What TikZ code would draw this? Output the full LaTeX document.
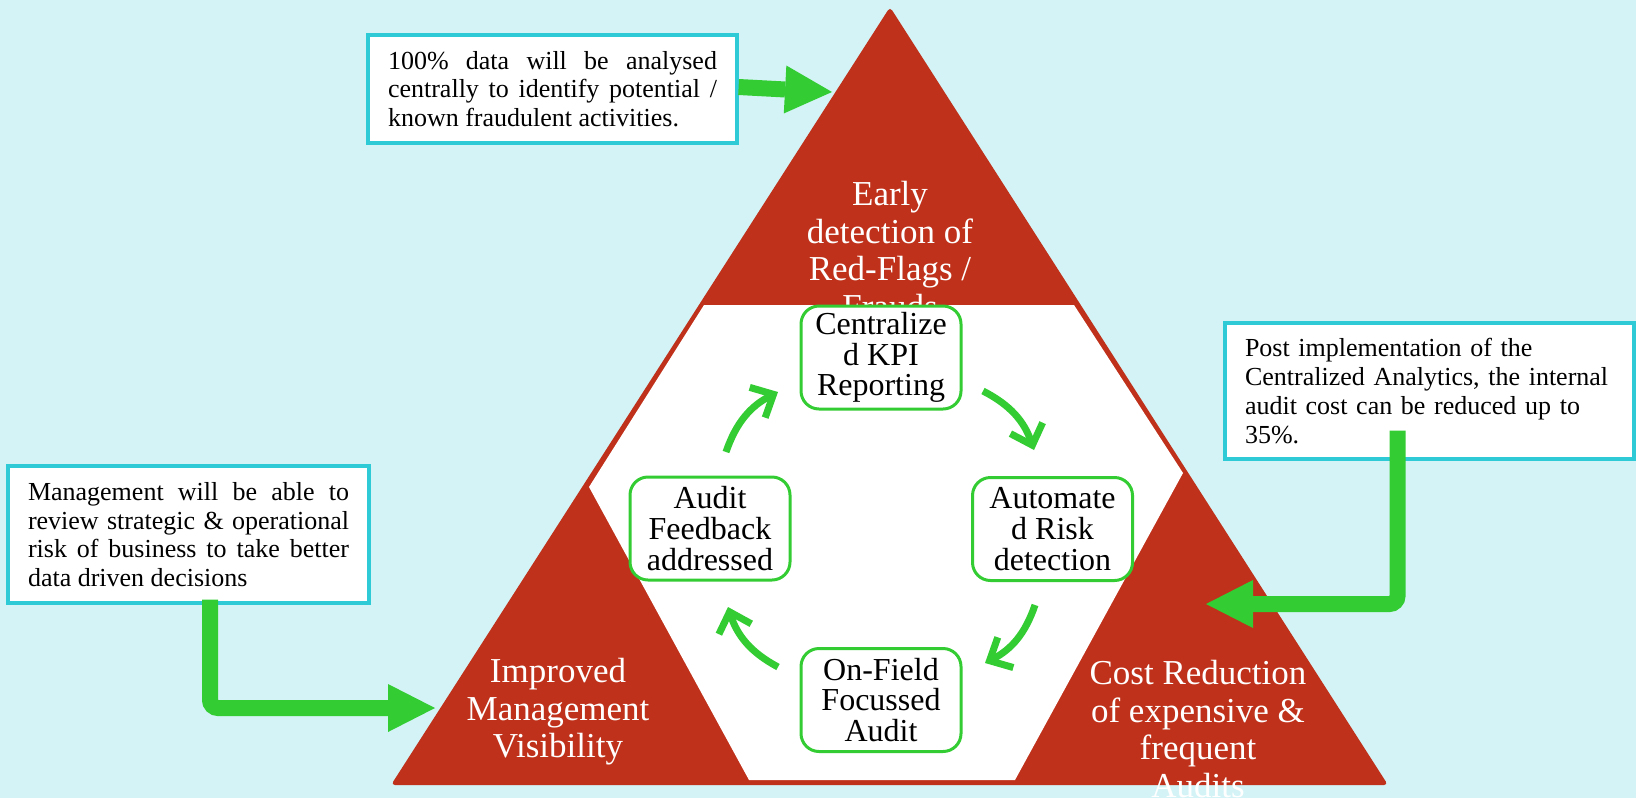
\documentclass[tikz,border=0pt]{standalone}
\usepackage{fontspec}
\setmainfont{Liberation Serif}
\usepackage{tikz}
\usetikzlibrary{arrows.meta}

\definecolor{bgcyan}{RGB}{212,243,246}
\definecolor{flagred}{RGB}{191,49,26}
\definecolor{leafgreen}{RGB}{51,204,51}
\definecolor{notecyan}{RGB}{46,203,214}

\begin{document}
\begin{tikzpicture}[x=0.5pt,y=-0.5pt,
  note box/.style={draw=notecyan,line width=1.6pt,fill=white,inner xsep=10pt,inner ysep=0pt,align=justify,font=\fontsize{13}{14.4}\selectfont,execute at begin node={\hyphenpenalty=10000 \tolerance=10000 }},
  cycle node/.style={draw=leafgreen,line width=1.5pt,fill=white,rounded corners=9pt,minimum width=80pt,minimum height=51.5pt,inner sep=1pt,align=center,font=\fontsize{16}{15.4}\selectfont},
  corner text/.style={text=white,align=center,font=\fontsize{17.5}{18.8}\selectfont},
  big arrow/.style={draw=leafgreen,line width=8pt,rounded corners=4pt,-{Triangle[length=23.5pt,width=24pt,line width=0pt]}},
  cycle arrow/.style={draw=leafgreen,line width=3.5pt,-{Straight Barb[length=9pt,width=17pt]}}]
  \fill[bgcyan] (0,0) rectangle (1636,798);
  \useasboundingbox (0,0) rectangle (1636,798);

  \fill[flagred,rounded corners=2pt] (890,7) -- (1388,785) -- (391,785) -- cycle;
  \fill[white] (704,305) -- (1074,305) -- (1183,473) -- (1015,780) -- (749,780) -- (589,487) -- cycle;

  \node[corner text] (early) at (890,250) {Early\\detection of\\Red-Flags /\\Frauds};
  \node[corner text] (visibility) at (558,712) {Improved\\Management\\Visibility};
  \node[corner text] (saving) at (1198,729) {Cost Reduction\\of expensive \&\\frequent\\Audits};

  \node[note box,text width=164.5pt,minimum height=54pt] (fraudnote) at (552.5,89) {100\% data will be analysed centrally to identify potential / known fraudulent activities.};
  \node[note box,text width=184.5pt,minimum height=68pt,align=left] (costnote) at (1429.5,391) {Post implementation of the\\Centralized Analytics, the internal\\audit cost can be reduced up to\\35\%.};
  \node[note box,text width=160.5pt,minimum height=68.5pt] (mgmtnote) at (188.5,534.5) {Management will be able to review strategic \& operational risk of business to take better data driven decisions};

  \node[cycle node] (kpi) at (881,357.5) {Centralize\\d KPI\\Reporting};
  \node[cycle node] (risk) at (1052.5,529) {Automate\\d Risk\\detection};
  \node[cycle node] (onfield) at (881,700) {On-Field\\Focussed\\Audit};
  \node[cycle node] (feedback) at (710,528.5) {Audit\\Feedback\\addressed};

  \coordinate (kpi exit) at (983,391);
  \coordinate (risk entry) at (1034,450);
  \coordinate (risk exit) at (1035,605);
  \coordinate (onfield entry) at (985,663);
  \coordinate (onfield exit) at (778,667);
  \coordinate (feedback entry) at (728,607);
  \coordinate (feedback exit) at (726,452);
  \coordinate (kpi entry) at (778,392);
  \draw[cycle arrow] (kpi exit) to[bend left=22] (risk entry);
  \draw[cycle arrow] (risk exit) to[bend left=22] (onfield entry);
  \draw[cycle arrow] (onfield exit) to[bend left=22] (feedback entry);
  \draw[cycle arrow] (feedback exit) to[bend left=22] (kpi entry);

  \coordinate (fraud tip) at (832,92);
  \coordinate (cost tip) at (1206,604);
  \coordinate (mgmt tip) at (435,708);
  \draw[big arrow] ([yshift=1pt]fraudnote.east) -- (fraud tip);
  \draw[big arrow] ([xshift=-16pt,yshift=15pt]costnote.south) |- (cost tip);
  \draw[big arrow] ([xshift=10.75pt,yshift=2.5pt]mgmtnote.south) |- (mgmt tip);
\end{tikzpicture}
\end{document}
